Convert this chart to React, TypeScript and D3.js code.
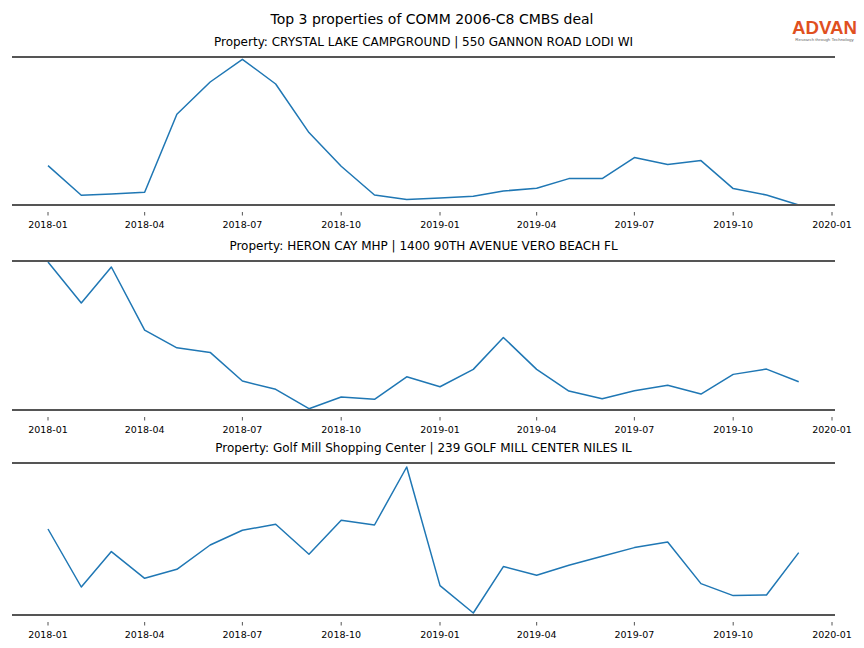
import React from "react";
import * as d3 from "d3";

const months: string[] = [
  "2018-01", "2018-02", "2018-03", "2018-04", "2018-05", "2018-06",
  "2018-07", "2018-08", "2018-09", "2018-10", "2018-11", "2018-12",
  "2019-01", "2019-02", "2019-03", "2019-04", "2019-05", "2019-06",
  "2019-07", "2019-08", "2019-09", "2019-10", "2019-11", "2019-12",
];

const tickLabels: string[] = [
  "2018-01", "2018-04", "2018-07", "2018-10",
  "2019-01", "2019-04", "2019-07", "2019-10", "2020-01",
];

const titles: string[] = [
  "Property: CRYSTAL LAKE CAMPGROUND | 550 GANNON ROAD LODI WI",
  "Property: HERON CAY MHP | 1400 90TH AVENUE VERO BEACH FL",
  "Property: Golf Mill Shopping Center | 239 GOLF MILL CENTER NILES IL",
];

const crystalLake: number[] = [
  39.4, 9.7, 11, 12.7, 90.7, 123, 145.7, 121, 72.4, 38.7, 10, 5.4,
  7, 8.7, 14, 16.7, 26.4, 26.4, 47.4, 40.4, 44.4, 16.4, 10, 0,
];
const heronCay: number[] = [
  148.3, 107.3, 143.3, 80, 62.3, 57.7, 29, 20.7, 1.3, 13, 10.7, 33.3,
  23.3, 40.7, 72.7, 40.7, 19, 11.3, 19.3, 24.7, 16, 35.7, 41, 28.3,
];
const golfMill: number[] = [
  86, 28, 63.4, 36.7, 45.7, 70, 84.7, 90.7, 60.7, 94.7, 90, 148,
  29.4, 2, 48.4, 39.7, 49.7, 58.7, 67.4, 73, 31.4, 19.4, 20, 62.4,
];

const seriesList: number[][] = [crystalLake, heronCay, golfMill];
const yLimits: number[] = [148, 149.3, 152];

const W = 864;
const H = 648;
const LEFT = 12;
const RIGHT = 835;
const panels = [
  { top: 57, bottom: 205 },
  { top: 261, bottom: 410 },
  { top: 463, bottom: 615 },
];

const parse = d3.utcParse("%Y-%m");
const FONT = "'DejaVu Sans', sans-serif";
const SPINE = "#555555";

export default function App() {
  const x = d3
    .scaleUtc()
    .domain([parse("2018-01")!, parse("2020-01")!])
    .range([48, 832]);

  return (
    <svg
      width={W}
      height={H}
      style={{ position: "absolute", left: 0, top: 0, background: "#fff" }}
      fontFamily={FONT}
    >
      <rect x={0} y={0} width={W} height={H} fill="#fff" />
      <text x={432} y={24} fontSize={14} textAnchor="middle" fill="#000">
        Top 3 properties of COMM 2006-C8 CMBS deal
      </text>
      {/* logo */}
      <text
        x={824.5}
        y={33.5}
        fontSize={19}
        fontWeight={600}
        textAnchor="middle"
        fill="#e0501f"
        fontFamily="'Liberation Sans', Arial, sans-serif"
        textLength={65}
        lengthAdjust="spacingAndGlyphs"
      >
        ADVAN
      </text>
      <text
        x={824.5}
        y={40.5}
        fontSize={4.4}
        textAnchor="middle"
        fill="#666"
        fontFamily="'Liberation Sans', Arial, sans-serif"
      >
        Research through Technology
      </text>
      {panels.map((p, i) => {
        const y = d3
          .scaleLinear()
          .domain([0, yLimits[i]])
          .range([p.bottom, p.top]);
        const line = d3
          .line<number>()
          .x((_, j) => x(parse(months[j])!))
          .y((v) => y(v));
        const mid = (LEFT + RIGHT) / 2;
        return (
          <g key={i}>
            <text
              x={mid}
              y={p.top - 11}
              fontSize={12}
              textAnchor="middle"
              fill="#000"
            >
              {titles[i]}
            </text>
            <path
              d={line(seriesList[i]) || ""}
              fill="none"
              stroke="#1f77b4"
              strokeWidth={1.5}
              strokeLinejoin="round"
            />
            <line x1={LEFT} x2={RIGHT} y1={p.top} y2={p.top} stroke={SPINE} strokeWidth={2} />
            <line x1={LEFT} x2={RIGHT} y1={p.bottom} y2={p.bottom} stroke={SPINE} strokeWidth={2} />
            {tickLabels.map((t) => {
              const tx = x(parse(t)!);
              return (
                <g key={t}>
                  <line
                    x1={tx}
                    x2={tx}
                    y1={p.bottom + 7}
                    y2={p.bottom + 10.5}
                    stroke={SPINE}
                    strokeWidth={1}
                  />
                  <text
                    x={tx}
                    y={p.bottom + 22.5}
                    fontSize={9.5}
                    textAnchor="middle"
                    fill="#000"
                  >
                    {t}
                  </text>
                </g>
              );
            })}
          </g>
        );
      })}
    </svg>
  );
}
